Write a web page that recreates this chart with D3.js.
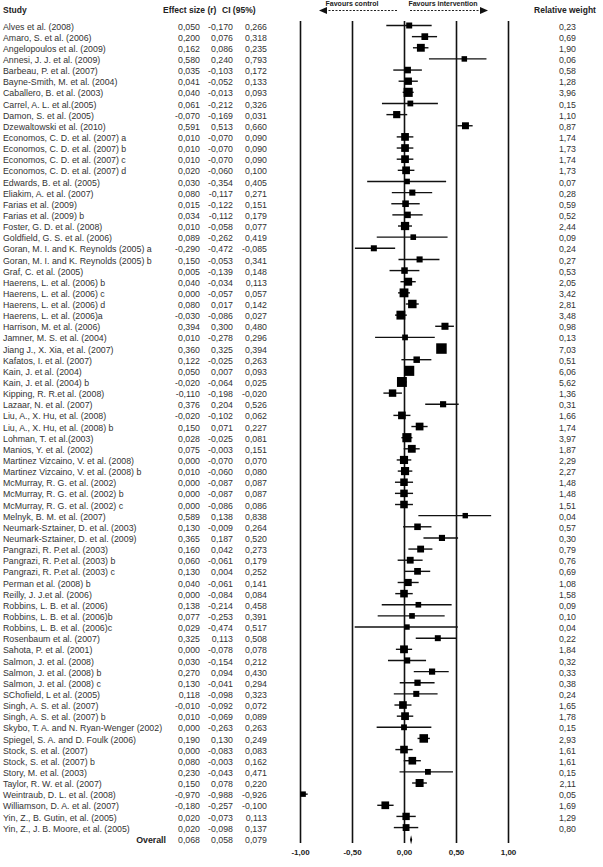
<!DOCTYPE html>
<html>
<head>
<meta charset="utf-8">
<script src="https://cdn.jsdelivr.net/npm/d3@7"></script>
<style>
  body { margin: 0; background: #fff; }
  svg text { font-family: "Liberation Sans", Arial, sans-serif; }
</style>
</head>
<body>
<svg class="chart" width="603" height="867"></svg>
<script>
const studies = [
  "Alves et al. (2008)", "Amaro, S. et al. (2006)", "Angelopoulos et al. (2009)", "Annesi, J. J. et al. (2009)",
  "Barbeau, P. et al. (2007)", "Bayne-Smith, M. et al. (2004)", "Caballero, B. et al. (2003)", "Carrel, A. L. et al.(2005)",
  "Damon, S. et al. (2005)", "Dzewaltowski et al. (2010)", "Economos, C. D. et al. (2007) a", "Economos, C. D. et al. (2007) b",
  "Economos, C. D. et al. (2007) c", "Economos, C. D. et al. (2007) d", "Edwards, B. et al. (2005)", "Eliakim, A. et al. (2007)",
  "Farias et al. (2009)", "Farias et al. (2009) b", "Foster, G. D. et al. (2008)", "Goldfield, G. S. et al. (2006)",
  "Goran, M. I. and K. Reynolds (2005) a", "Goran, M. I. and K. Reynolds (2005) b", "Graf, C. et al. (2005)",
  "Haerens, L. et al. (2006) b", "Haerens, L. et al. (2006) c", "Haerens, L. et al. (2006) d", "Haerens, L. et al. (2006)a",
  "Harrison, M. et al. (2006)", "Jamner, M. S. et al. (2004)", "Jiang J., X. Xia, et al. (2007)", "Kafatos, I. et al. (2007)",
  "Kain, J. et al. (2004)", "Kain, J. et al. (2004) b", "Kipping, R. R.et al. (2008)", "Lazaar, N. et al. (2007)",
  "Liu, A., X. Hu, et al. (2008)", "Liu, A., X. Hu, et al. (2008) b", "Lohman, T. et al.(2003)", "Manios, Y. et al. (2002)",
  "Martinez Vizcaino, V. et al. (2008)", "Martinez Vizcaino, V. et al. (2008) b", "McMurray, R. G. et al. (2002)",
  "McMurray, R. G. et al. (2002) b", "McMurray, R. G. et al. (2002) c", "Melnyk, B. M. et al. (2007)",
  "Neumark-Sztainer, D. et al. (2003)", "Neumark-Sztainer, D. et al. (2009)", "Pangrazi, R. P.et al. (2003)",
  "Pangrazi, R. P.et al. (2003) b", "Pangrazi, R. P.et al. (2003) c", "Perman et al. (2008) b", "Reilly, J. J.et al. (2006)",
  "Robbins, L. B. et al. (2006)", "Robbins, L. B. et al. (2006)b", "Robbins, L. B. et al. (2006)c", "Rosenbaum et al. (2007)",
  "Sahota, P. et al. (2001)", "Salmon, J. et al. (2008)", "Salmon, J. et al. (2008) b", "Salmon, J. et al. (2008) c",
  "SChofield, L et al. (2005)", "Singh, A. S. et al. (2007)", "Singh, A. S. et al. (2007) b",
  "Skybo, T. A. and N. Ryan-Wenger (2002)", "Spiegel, S. A. and D. Foulk (2006)", "Stock, S. et al. (2007)",
  "Stock, S. et al. (2007) b", "Story, M. et al. (2003)", "Taylor, R. W. et al. (2007)", "Weintraub, D. L. et al. (2008)",
  "Williamson, D. A. et al. (2007)", "Yin, Z., B. Gutin, et al. (2005)", "Yin, Z., J. B. Moore, et al. (2005)"
];

const effect = [
  0.050, 0.200, 0.162, 0.580, 0.035, 0.041, 0.040, 0.061, -0.070, 0.591, 0.010, 0.010, 0.010, 0.020, 0.030, 0.080,
  0.015, 0.034, 0.010, 0.089, -0.290, 0.150, 0.005, 0.040, 0.000, 0.080, -0.030, 0.394, 0.010, 0.360, 0.122, 0.050,
  -0.020, -0.110, 0.376, -0.020, 0.150, 0.028, 0.075, 0.000, 0.010, 0.000, 0.000, 0.000, 0.589, 0.130, 0.365, 0.160,
  0.060, 0.130, 0.040, 0.000, 0.138, 0.077, 0.029, 0.325, 0.000, 0.030, 0.270, 0.130, 0.118, -0.010, 0.010, 0.000,
  0.190, 0.000, 0.080, 0.230, 0.150, -0.970, -0.180, 0.020, 0.020
];

const ciLow = [
  -0.170, 0.076, 0.086, 0.240, -0.103, -0.052, -0.013, -0.212, -0.169, 0.513, -0.070, -0.070, -0.070, -0.060, -0.354, -0.117,
  -0.122, -0.112, -0.058, -0.262, -0.472, -0.053, -0.139, -0.034, -0.057, 0.017, -0.086, 0.300, -0.278, 0.325, -0.025, 0.007,
  -0.064, -0.198, 0.204, -0.102, 0.071, -0.025, -0.003, -0.070, -0.060, -0.087, -0.087, -0.086, 0.138, -0.009, 0.187, 0.042,
  -0.061, 0.004, -0.061, -0.084, -0.214, -0.253, -0.474, 0.113, -0.078, -0.154, 0.094, -0.041, -0.098, -0.092, -0.069, -0.263,
  0.130, -0.083, -0.003, -0.043, 0.078, -0.988, -0.257, -0.073, -0.098
];

const ciHigh = [
  0.266, 0.318, 0.235, 0.793, 0.172, 0.133, 0.093, 0.326, 0.031, 0.660, 0.090, 0.090, 0.090, 0.100, 0.405, 0.271,
  0.151, 0.179, 0.077, 0.419, -0.085, 0.341, 0.148, 0.113, 0.057, 0.142, 0.027, 0.480, 0.296, 0.394, 0.263, 0.093,
  0.025, -0.020, 0.526, 0.062, 0.227, 0.081, 0.151, 0.070, 0.080, 0.087, 0.087, 0.086, 0.838, 0.264, 0.520, 0.273,
  0.179, 0.252, 0.141, 0.084, 0.458, 0.391, 0.517, 0.508, 0.078, 0.212, 0.430, 0.294, 0.323, 0.072, 0.089, 0.263,
  0.249, 0.083, 0.162, 0.471, 0.220, -0.926, -0.100, 0.113, 0.137
];

const weights = [
  0.23, 0.69, 1.90, 0.06, 0.58, 1.28, 3.96, 0.15, 1.10, 0.87, 1.74, 1.73, 1.74, 1.73, 0.07, 0.28,
  0.59, 0.52, 2.44, 0.09, 0.24, 0.27, 0.53, 2.05, 3.42, 2.81, 3.48, 0.98, 0.13, 7.03, 0.51, 6.06,
  5.62, 1.36, 0.31, 1.66, 1.74, 3.97, 1.87, 2.29, 2.27, 1.48, 1.48, 1.51, 0.04, 0.57, 0.30, 0.79,
  0.76, 0.69, 1.08, 1.58, 0.09, 0.10, 0.04, 0.22, 1.84, 0.32, 0.33, 0.38, 0.24, 1.65, 1.78, 0.15,
  2.93, 1.61, 1.61, 0.15, 2.11, 0.05, 1.69, 1.29, 0.80
];

const overall = {label: "Overall", r: 0.068, lo: 0.058, hi: 0.079};
const xTicks = [-1, -0.5, 0, 0.5, 1];

const data = studies.map((s, i) => ({study: s, r: effect[i], lo: ciLow[i], hi: ciHigh[i], w: weights[i]}));

const locale = d3.formatLocale({decimal: ",", thousands: ".", grouping: [3], currency: ["", ""], minus: "-"});
const f3 = locale.format(".3f");
const f2 = locale.format(".2f");

const svg = d3.select(".chart");

const x = d3.scaleLinear().domain([-1, 1]).range([300, 508]);
const y = d3.scaleLinear().domain([0, studies.length]).range([26.5, 839.7]);
const size = d3.scaleSqrt().domain([0, d3.max(weights)]).range([5, 10.5]);

const plotTop = 21, plotBottom = 843;
const textCol = "#333";

// vertical reference lines + tick labels
svg.append("g")
    .attr("class", "axis")
    .attr("transform", `translate(0,${plotBottom})`)
    .call(d3.axisBottom(x).tickValues(xTicks).tickSize(-(plotBottom - plotTop)).tickPadding(6)
        .tickFormat(d => f2(d)))
    .call(g => g.select(".domain").remove())
    .call(g => g.selectAll(".tick line").attr("stroke", "#111").attr("stroke-width", 1.6))
    .call(g => g.selectAll(".tick text")
        .attr("font-size", 8)
        .attr("font-weight", "bold")
        .attr("fill", "#222"));

// headers
const header = svg.append("g").attr("font-weight", "bold").attr("font-size", 8.5).attr("fill", "#222");
header.append("text").attr("x", 3).attr("y", 13).text("Study");
header.append("text").attr("x", 163).attr("y", 13).text("Effect size (r)");
header.append("text").attr("x", 222).attr("y", 13).text("CI (95%)");
header.append("text").attr("x", 565).attr("y", 13).attr("text-anchor", "middle").text("Relative weight");
header.append("text").attr("x", 352).attr("y", 6).attr("text-anchor", "middle").attr("font-size", 7).text("Favours control");
header.append("text").attr("x", 443).attr("y", 6).attr("text-anchor", "middle").attr("font-size", 7).text("Favours intervention");

// dashed arrows
const arrows = svg.append("g");
arrows.append("line").attr("x1", 325).attr("x2", 398).attr("y1", 10.5).attr("y2", 10.5)
    .attr("stroke", "#222").attr("stroke-dasharray", "2,1.5");
arrows.append("path").attr("d", "M319,10.5 L327,7 L327,14 Z").attr("fill", "#111");
arrows.append("line").attr("x1", 410).attr("x2", 482).attr("y1", 10.5).attr("y2", 10.5)
    .attr("stroke", "#222").attr("stroke-dasharray", "2,1.5");
arrows.append("path").attr("d", "M488,10.5 L480,7 L480,14 Z").attr("fill", "#111");

// table rows
const rows = svg.append("g").attr("font-size", 8.8).attr("fill", textCol);

rows.selectAll(".study")
    .data(data)
    .enter().append("text")
    .attr("class", "study")
    .attr("x", 3)
    .attr("y", (d, i) => y(i))
    .attr("dy", "0.35em")
    .text(d => d.study);

const cols = [
    {key: "r", x: 200},
    {key: "lo", x: 233},
    {key: "hi", x: 267}
];
cols.forEach(c => {
    rows.selectAll(".col-" + c.key)
        .data(data)
        .enter().append("text")
        .attr("class", "col-" + c.key)
        .attr("x", c.x)
        .attr("y", (d, i) => y(i))
        .attr("dy", "0.35em")
        .attr("text-anchor", "end")
        .text(d => f3(d[c.key]));
});

rows.selectAll(".weight")
    .data(data)
    .enter().append("text")
    .attr("class", "weight")
    .attr("x", 576)
    .attr("y", (d, i) => y(i))
    .attr("dy", "0.35em")
    .attr("text-anchor", "end")
    .text(d => f2(d.w));

// overall row
const oy = y(studies.length);
rows.append("text").attr("x", 166).attr("y", oy).attr("dy", "0.35em")
    .attr("text-anchor", "end").attr("font-weight", "bold").attr("fill", "#222").text(overall.label);
cols.forEach(c => {
    rows.append("text").attr("x", c.x).attr("y", oy).attr("dy", "0.35em")
        .attr("text-anchor", "end").text(f3(overall[c.key]));
});

// CI whiskers and squares
const marks = svg.append("g");
marks.selectAll(".ci")
    .data(data)
    .enter().append("line")
    .attr("class", "ci")
    .attr("x1", d => x(d.lo))
    .attr("x2", d => x(d.hi))
    .attr("y1", (d, i) => y(i) - 1)
    .attr("y2", (d, i) => y(i) - 1)
    .attr("stroke", "#111")
    .attr("stroke-width", 1.4);

marks.selectAll(".box")
    .data(data)
    .enter().append("rect")
    .attr("class", "box")
    .attr("x", d => x(d.r) - size(d.w) / 2)
    .attr("y", (d, i) => y(i) - 1 - size(d.w) / 2)
    .attr("width", d => size(d.w))
    .attr("height", d => size(d.w))
    .attr("fill", "#000");

// overall diamond
marks.append("path")
    .attr("d", `M${x(overall.lo)},${oy} L${x(overall.r)},${oy - 4.5} L${x(overall.hi)},${oy} L${x(overall.r)},${oy + 4.5} Z`)
    .attr("fill", "#000");
</script>
</body>
</html>
